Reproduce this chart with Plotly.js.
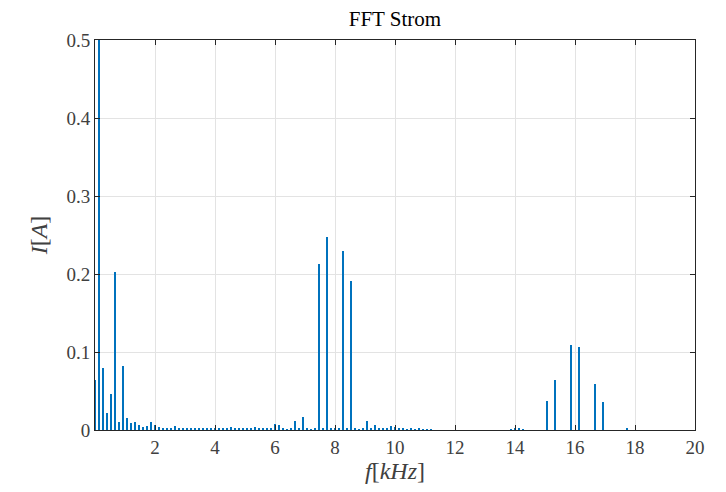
<!DOCTYPE html>
<html>
<head>
<meta charset="utf-8">
<script src="https://cdn.plot.ly/plotly-3.0.1.min.js"></script>
<style>html,body{margin:0;padding:0;background:#fff;}#chart{width:726px;height:492px;}</style>
</head>
<body>
<div id="chart"></div>
<script>
// Frequencies in kHz (FFT bins) and current amplitudes in A
var freqKHz = [0, 0.133, 0.267, 0.4, 0.533, 0.667, 0.8, 0.933, 1.067, 1.2, 1.333, 1.467, 1.6, 1.733, 1.867, 2.0, 2.133, 2.267, 2.4, 2.533, 2.667, 2.8, 2.933, 3.067, 3.2, 3.333, 3.467, 3.6, 3.733, 3.867, 4.0, 4.133, 4.267, 4.4, 4.533, 4.667, 4.8, 4.933, 5.067, 5.2, 5.333, 5.467, 5.6, 5.733, 5.867, 6.0, 6.133, 6.267, 6.4, 6.533, 6.667, 6.8, 6.933, 7.067, 7.2, 7.333, 7.467, 7.6, 7.733, 7.867, 8.0, 8.133, 8.267, 8.4, 8.533, 8.667, 8.8, 8.933, 9.067, 9.2, 9.333, 9.467, 9.6, 9.733, 9.867, 10.0, 10.133, 10.267, 10.4, 10.533, 10.667, 10.8, 10.933, 11.067, 11.2, 13.867, 14.0, 14.133, 14.267, 15.067, 15.333, 15.867, 16.133, 16.667, 16.933, 17.733];
var currentA = [0.064, 0.62, 0.080, 0.022, 0.046, 0.203, 0.010, 0.082, 0.016, 0.009, 0.010, 0.007, 0.004, 0.005, 0.010, 0.006, 0.004, 0.003, 0.002, 0.003, 0.005, 0.002, 0.002, 0.002, 0.002, 0.002, 0.002, 0.002, 0.002, 0.002, 0.003, 0.002, 0.002, 0.003, 0.004, 0.002, 0.002, 0.002, 0.002, 0.003, 0.004, 0.002, 0.002, 0.002, 0.003, 0.008, 0.006, 0.002, 0.001, 0.002, 0.011, 0.002, 0.0165, 0.002, 0.001, 0.002, 0.213, 0.002, 0.248, 0.002, 0.002, 0.002, 0.2295, 0.002, 0.1906, 0.002, 0.001, 0.002, 0.012, 0.002, 0.0066, 0.003, 0.003, 0.002, 0.005, 0.004, 0.002, 0.002, 0.001, 0.002, 0.001, 0.002, 0.001, 0.001, 0.001, 0.001, 0.002, 0.002, 0.001, 0.037, 0.064, 0.109, 0.107, 0.0586, 0.036, 0.002];
var xTicks = [2, 4, 6, 8, 10, 12, 14, 16, 18, 20];
var yTicks = [0, 0.1, 0.2, 0.3, 0.4, 0.5];
var yTickText = ['0', '0.1', '0.2', '0.3', '0.4', '0.5'];

var serif = '"Liberation Serif", "DejaVu Serif", serif';
var axisColor = '#262626';
var textColor = '#404040';

var trace = {
  type: 'bar',
  x: freqKHz,
  y: currentA,
  width: 0.097,
  marker: {color: '#0072BD', line: {width: 0}},
  hoverinfo: 'x+y'
};

var layout = {
  width: 726,
  height: 492,
  margin: {l: 95, r: 31, t: 40, b: 62, pad: 0},
  paper_bgcolor: '#ffffff',
  plot_bgcolor: '#ffffff',
  showlegend: false,
  bargap: 0,
  font: {family: serif, color: axisColor, size: 19},
  title: {
    text: 'FFT Strom',
    font: {family: serif, size: 21, color: '#000000'},
    x: 0.544, xanchor: 'center',
    y: 0.963, yanchor: 'middle'
  },
  xaxis: {
    range: [0, 20],
    tickmode: 'array',
    tickvals: xTicks,
    ticktext: xTicks.map(String),
    ticks: 'inside',
    ticklen: 5,
    tickwidth: 1,
    tickcolor: axisColor,
    showline: true,
    linecolor: axisColor,
    linewidth: 1,
    mirror: 'ticks',
    showgrid: true,
    gridcolor: '#e3e3e3',
    gridwidth: 1,
    zeroline: false,
    tickfont: {family: serif, size: 19, color: textColor},
    title: {text: '<i>f</i>[<i>kHz</i>]', font: {family: serif, size: 24, color: textColor}, standoff: 4}
  },
  yaxis: {
    range: [0, 0.5],
    tickmode: 'array',
    tickvals: yTicks,
    ticktext: yTickText,
    ticks: 'inside',
    ticklen: 5,
    tickwidth: 1,
    tickcolor: axisColor,
    showline: true,
    linecolor: axisColor,
    linewidth: 1,
    mirror: 'ticks',
    showgrid: true,
    gridcolor: '#e3e3e3',
    gridwidth: 1,
    zeroline: false,
    tickfont: {family: serif, size: 19, color: textColor},
    title: {text: '<i>I</i>[<i>A</i>]', font: {family: serif, size: 24, color: textColor}, standoff: 12}
  }
};

Plotly.newPlot('chart', [trace], layout, {displayModeBar: false, staticPlot: true});
</script>
</body>
</html>
